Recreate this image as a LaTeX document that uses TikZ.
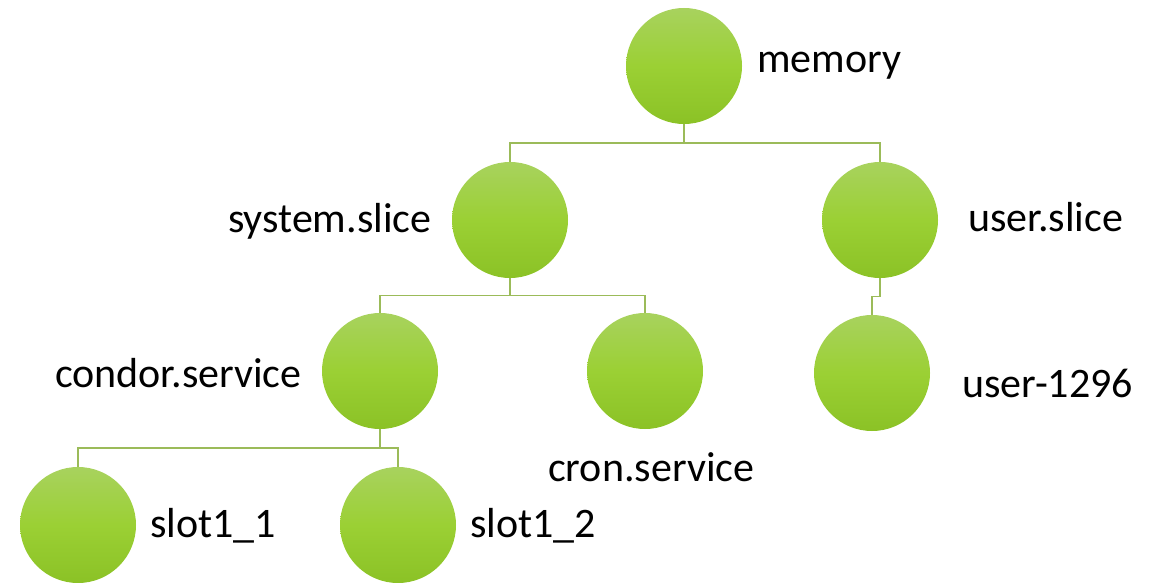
\documentclass[tikz,border=0pt]{standalone}
\usepackage{fontspec}
\setmainfont{Carlito}
\usetikzlibrary{calc}

\definecolor{leaftop}{HTML}{A8D25E}
\definecolor{leafmid}{HTML}{9BD034}
\definecolor{leafbot}{HTML}{8BC226}
\definecolor{linkgreen}{HTML}{9BBB59}

\tikzset{
  cgroup/.style={circle, minimum size=116pt, inner sep=0pt,
                 top color=leaftop, bottom color=leafbot, middle color=leafmid},
  lbl/.style={anchor=base west, inner sep=0pt,
              font=\fontsize{42}{50}\selectfont},
  link/.style={draw=linkgreen, line width=1.6pt}
}

\begin{document}
\begin{tikzpicture}[x=1pt, y=-1pt]
  \useasboundingbox (0,0) rectangle (1163,583);

  % groups
  \node[cgroup] (memory) at (684, 66)  {};
  \node[cgroup] (system) at (510,220)  {};
  \node[cgroup] (user)   at (880,220)  {};
  \node[cgroup] (condor) at (380,371)  {};
  \node[cgroup] (cron)   at (645,371)  {};
  \node[cgroup] (userid) at (872,373)  {};
  \node[cgroup] (slotA)  at ( 78,525)  {};
  \node[cgroup] (slotB)  at (398,525)  {};

  % names
  \node[lbl] (memory-l) at (757, 73) {memory};
  \node[lbl] (system-l) at (228,233) {system.slice};
  \node[lbl] (user-l)   at (968,232) {user.slice};
  \node[lbl] (condor-l) at ( 55,387) {condor.service};
  \node[lbl] (cron-l)   at (548,481) {cron.service};
  \node[lbl] (userid-l) at (962,397) {user-1296};
  \node[lbl] (slotA-l)  at (150,537) {slot1\_1};
  \node[lbl] (slotB-l)  at (470,537) {slot1\_2};

  \foreach \p/\c in {memory/system, memory/user, system/condor, system/cron,
                     user/userid, condor/slotA, condor/slotB}
  {
      \draw[link] (\p.south) |- ($(\p.south)!.5!(\c.north)$) -| (\c.north);
  }

\end{tikzpicture}
\end{document}
